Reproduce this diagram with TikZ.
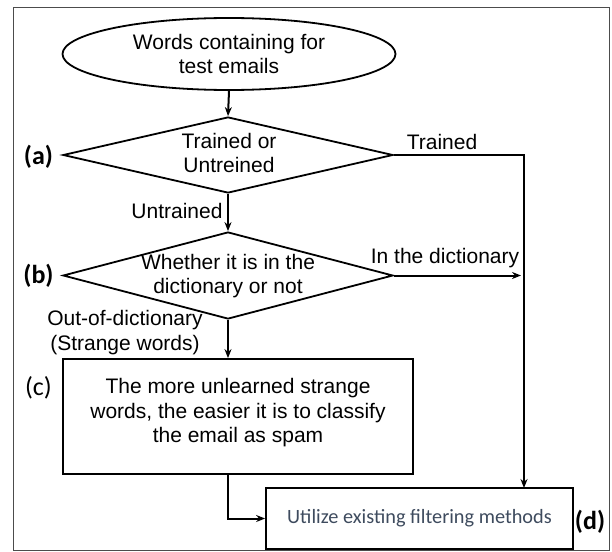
\documentclass[tikz,border=0pt]{standalone}
\usepackage{fontspec}
\setmainfont{Liberation Sans}
\newfontfamily\calib{Carlito}
\usetikzlibrary{shapes.geometric,arrows.meta}
\definecolor{slate}{HTML}{3E4B5E}
\begin{document}
\begin{tikzpicture}[x=1pt,y=-1pt,
  blk/.style={draw, line width=1.8pt},
  txt/.style={font=\fontsize{21}{24.5}\selectfont, align=center, inner sep=0pt},
  conn/.style={line width=2pt, -{Stealth[length=9pt,width=7pt]}},
  tagb/.style={font=\calib\bfseries\fontsize{26}{28}\selectfont, inner sep=0pt},
  tagr/.style={font=\calib\fontsize{26}{28}\selectfont, inner sep=0pt}]
\useasboundingbox (0,0) rectangle (612,551);
\draw[gray!60!black, line width=1pt] (13,8) rectangle (609,550);

\node[blk, ellipse, txt, minimum width=333pt, minimum height=72pt] (start) at (229,54) {Words containing for\\test emails};

\node[blk, diamond, minimum width=330pt, minimum height=76pt, inner sep=0pt] (da) at (228,155) {};
\node[txt] (dat) at (229,153) {Trained or\\Untreined};

\node[blk, diamond, minimum width=330pt, minimum height=87pt, inner sep=0pt] (db) at (228,275.5) {};
\node[txt] (dbt) at (228,276) {Whether it is in the\\dictionary or not};

\node[blk, rectangle, minimum width=350pt, minimum height=115pt, inner sep=0pt] (bc) at (238,416.5) {};
\node[txt] (bct) at (238,413) {The more unlearned strange\\words, the easier it is to classify\\the email as spam};

\node[blk, rectangle, minimum width=307pt, minimum height=61pt, inner sep=0pt,
  font=\calib\fontsize{20.3}{24}\selectfont, text=slate] (bd) at (419.5,518.5) {Utilize existing filtering methods};

\node[tagb] (la) at (38.5,157) {(a)};
\node[tagb] (lb) at (38.5,276) {(b)};
\node[tagr] (lc) at (38.5,388) {(c)};
\node[tagb] (ldd) at (590,522) {(d)};

\node[txt] (lt) at (442,142) {Trained};
\node[txt] (ld) at (445,258) {In the dictionary};
\node[txt] (lu) at (177,210.5) {Untrained};
\node[txt] (lo) at (125,332.5) {Out-of-dictionary\\(Strange words)};

\coordinate (dtop) at (524,488);
\draw[conn] (start.south) -- (da.north);
\draw[conn] (da.south) -- (db.north);
\draw[conn] (db.south) -- (db.south |- bc.north);
\draw[conn] (da.east) -| (dtop);
\draw[conn, shorten >=3pt] (db.east) -- (db.east -| dtop);
\draw[conn] (db.south |- bc.south) |- (bd.west);
\end{tikzpicture}
\end{document}
